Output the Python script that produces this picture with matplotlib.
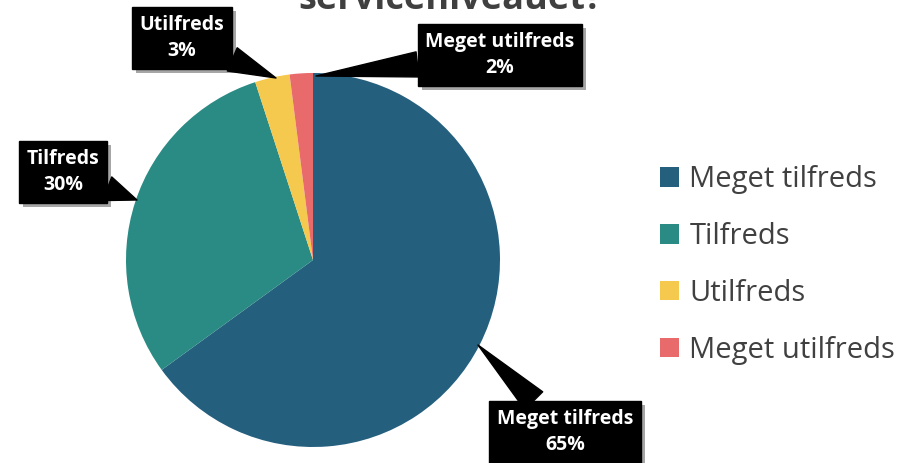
import matplotlib
matplotlib.use("Agg")
import matplotlib.pyplot as plt
from matplotlib import patheffects as pe
from matplotlib.patches import Patch

categories = ["Meget tilfreds", "Tilfreds", "Utilfreds", "Meget utilfreds"]
values = [65, 30, 3, 2]
pct_labels = ["65%", "30%", "3%", "2%"]
colors = ["#245F7E", "#2A8A84", "#F5C84E", "#E86A6A"]
title = "serviceniveauet?"

W, H = 908, 463
fig = plt.figure(figsize=(W / 100, H / 100), dpi=100)
ax = fig.add_axes([0, 0, 1, 1])

cx, cy, r = 313, H - 260, 187
wedges, _ = ax.pie(values, colors=colors, startangle=90, counterclock=False,
                   center=(cx, cy), radius=r, frame=True,
                   wedgeprops=dict(linewidth=0))
ax.set_xlim(0, W)
ax.set_ylim(0, H)
ax.axis("off")

font = "Open Sans"

# label box centres and pointer targets (pixel coords from top)
boxes = [(565, 432), (63, 172), (182, 38), (500, 55)]
points = [(478, 345), (137, 200), (276, 78), (316, 76)]

for cat, pct, (bx, by), (px, py) in zip(categories, pct_labels, boxes, points):
    t = ax.annotate(f"{cat}\n{pct}", xy=(px, H - py), xytext=(bx, H - by),
                    ha="center", va="center", color="white", fontsize=14,
                    fontweight="bold", family=font, linespacing=1.45,
                    bbox=dict(boxstyle="square,pad=0.38", fc="black", ec="black"),
                    arrowprops=dict(arrowstyle="wedge,tail_width=1.3,shrink_factor=0.5",
                                    fc="black", ec="black", shrinkA=0, shrinkB=0),
                    zorder=5)
    t.get_bbox_patch().set_path_effects([pe.SimplePatchShadow(offset=(3, -3), alpha=0.35), pe.Normal()])

# title (clipped at top in the original)
ax.text(451, H - 9, title, ha="center", va="baseline", fontsize=26,
        fontweight="bold", color="#404040", family=font)

handles = [Patch(facecolor=c, edgecolor="none") for c in colors]
leg = ax.legend(handles, categories, loc="center left", bbox_to_anchor=(634 / W, (H - 265) / H),
                frameon=False, prop=dict(family=font, size=21), labelcolor="#404040",
                handlelength=0.65, handleheight=0.65, handletextpad=0.35, labelspacing=0.95)

fig.savefig("out.png", dpi=100)
